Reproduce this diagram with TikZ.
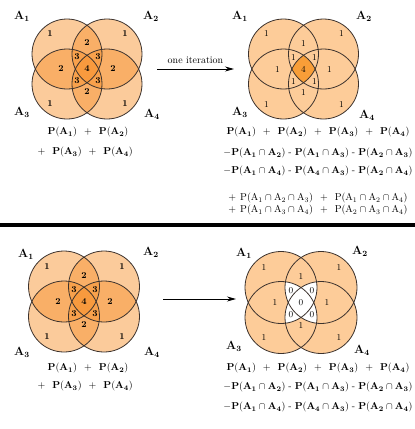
\documentclass[tikz,border=0pt]{standalone}
\usetikzlibrary{arrows.meta,calc}
\definecolor{peach}{RGB}{253,204,153}
\definecolor{orng}{RGB}{247,146,46}
\definecolor{deep}{RGB}{248,158,56}
\definecolor{edgec}{RGB}{60,50,45}
\newcommand{\PPb}[1]{$\mathbf{P(#1)}$}
\newcommand{\PPn}[1]{$\mathrm{P(#1)}$}
\newcommand{\pl}{\hspace{7pt}+\hspace{7pt}}
\newcommand{\mi}{\hspace{3pt}-\hspace{3pt}}
\tikzset{
  ring/.style={draw=edgec, line width=0.8pt},
  num/.style={font=\fontsize{9}{9}\selectfont\bfseries, inner sep=0pt},
  numr/.style={font=\fontsize{9}{9}\selectfont, inner sep=0pt},
  setlab/.style={font=\fontsize{12}{12}\selectfont, inner sep=0pt},
  formula/.style={font=\fontsize{10}{10}\selectfont, inner sep=0pt},
  iterarrow/.style={-{Stealth[length=9pt,width=5pt]}, line width=0.8pt}
}
\begin{document}
\begin{tikzpicture}[x=1pt,y=-1pt]
\useasboundingbox (0,0) rectangle (415,429);

% ---------- top-left Venn ----------
\coordinate (TL) at (87,69);
\foreach \dx/\dy in {-20/-15,20/-15,-20/15,20/15}
  \fill[orng, fill opacity=0.48] ($(TL)+(\dx,\dy)$) circle (35);
\foreach \dx/\dy in {-20/-15,20/-15,-20/15,20/15}
  \draw[ring] ($(TL)+(\dx,\dy)$) circle (35);
\foreach \dx/\dy/\t [count=\i] in {-37/-35/1,38/-35/1,-37/35/1,38/35/1,0/-26/2,-26/0/2,26/0/2,0/23/2,-10/-12/3,11/-12/3,-10/12/3,11/12/3,0/0/4}
  \node[num] (tln\i) at ($(TL)+(\dx,\dy)$) {\t};
\node[setlab] (tla1) at (22,16) {$\mathbf{A_1}$};
\node[setlab] (tla2) at (151,16) {$\mathbf{A_2}$};
\node[setlab] (tla3) at (22,112) {$\mathbf{A_3}$};
\node[setlab] (tla4) at (152,114) {$\mathbf{A_4}$};

% ---------- top-right Venn ----------
\coordinate (TR) at (303.5,69);
\foreach \dx/\dy in {-20/-15,20/-15,-20/15,20/15}
  \fill[peach] ($(TR)+(\dx,\dy)$) circle (35);
\begin{scope}
  \clip ($(TR)+(-20,-15)$) circle (35);
  \clip ($(TR)+(20,-15)$) circle (35);
  \clip ($(TR)+(-20,15)$) circle (35);
  \fill[deep] ($(TR)+(20,15)$) circle (35);
\end{scope}
\foreach \dx/\dy in {-20/-15,20/-15,-20/15,20/15}
  \draw[ring] ($(TR)+(\dx,\dy)$) circle (35);
\foreach \dx/\dy/\t [count=\i] in {-37/-35/1,38/-35/1,-37/35/1,38/35/1,0/-26/1,-26/0/1,26/0/1,0/23/1,-10/-12/1,11/-12/1,-10/12/1,11/12/1,0/0/4}
  \node[numr] (trn\i) at ($(TR)+(\dx,\dy)$) {\t};
\node[setlab] (tra1) at (240,16) {$\mathbf{A_1}$};
\node[setlab] (tra2) at (364,16) {$\mathbf{A_2}$};
\node[setlab] (tra3) at (240,112) {$\mathbf{A_3}$};
\node[setlab] (tra4) at (367,115) {$\mathbf{A_4}$};

% arrow top
\coordinate (ta0) at (157,69);
\coordinate (ta1) at (234,69);
\draw[iterarrow] (ta0) -- (ta1) node[midway, above=5pt, font=\fontsize{10}{10}\selectfont, inner sep=0pt] (iter) {one iteration};

% texts top-left
\node[formula] (tlf1) at (88,132) {\PPb{A_1}\pl\PPb{A_2}};
\node[formula, anchor=east] (tlf2) at (133,152) {+\hspace{7pt}\PPb{A_3}\pl\PPb{A_4}};

% texts top-right
\node[formula] (trf1) at (318,132) {\PPb{A_1}\pl\PPb{A_2}\pl\PPb{A_3}\pl\PPb{A_4}};
\node[formula] (trf2) at (318,153) {$\mathbf{-}$\PPb{A_1\cap A_2}\mi\PPb{A_1\cap A_3}\mi\PPb{A_2\cap A_3}};
\node[formula] (trf3) at (318,171) {$\mathbf{-}$\PPb{A_1\cap A_4}\mi\PPb{A_4\cap A_3}\mi\PPb{A_2\cap A_4}};
\node[formula] (trf4) at (318,198) {+\hspace{4pt}\PPn{A_1\cap A_2\cap A_3}\pl\PPn{A_1\cap A_2\cap A_4}};
\node[formula] (trf5) at (318,210) {+\hspace{4pt}\PPn{A_1\cap A_3\cap A_4}\pl\PPn{A_2\cap A_3\cap A_4}};

% separator
\coordinate (s0) at (0,225);
\coordinate (s1) at (415,225);
\draw[line width=4pt] (s0) -- (s1);

% ---------- bottom-left Venn ----------
\coordinate (BL) at (84,301.5);
\foreach \dx/\dy in {-20/-15,20/-15,-20/15,20/15}
  \fill[orng, fill opacity=0.48] ($(BL)+(\dx,\dy)$) circle (35.5);
\foreach \dx/\dy in {-20/-15,20/-15,-20/15,20/15}
  \draw[ring] ($(BL)+(\dx,\dy)$) circle (35.5);
\foreach \dx/\dy/\t [count=\i] in {-37/-35/1,38/-35/1,-37/35/1,38/35/1,0/-26/2,-26/0/2,26/0/2,0/23/2,-10/-12/3,11/-12/3,-10/12/3,11/12/3,0/0/4}
  \node[num] (bln\i) at ($(BL)+(\dx,\dy)$) {\t};
\node[setlab] (bla1) at (26,254) {$\mathbf{A_1}$};
\node[setlab] (bla2) at (151,252) {$\mathbf{A_2}$};
\node[setlab] (bla3) at (22,352) {$\mathbf{A_3}$};
\node[setlab] (bla4) at (152,352) {$\mathbf{A_4}$};

% ---------- bottom-right Venn ----------
\coordinate (BR) at (301,302.5);
\foreach \dx/\dy in {-20/-15,20/-15,-20/15,20/15}
  \fill[peach] ($(BR)+(\dx,\dy)$) circle (36);
\begin{scope}
  \clip ($(BR)+(-20,-15)$) circle (36);
  \clip ($(BR)+(20,-15)$) circle (36);
  \fill[white] ($(BR)+(-20,15)$) circle (36);
\end{scope}
\begin{scope}
  \clip ($(BR)+(-20,-15)$) circle (36);
  \clip ($(BR)+(20,-15)$) circle (36);
  \fill[white] ($(BR)+(20,15)$) circle (36);
\end{scope}
\begin{scope}
  \clip ($(BR)+(-20,-15)$) circle (36);
  \clip ($(BR)+(-20,15)$) circle (36);
  \fill[white] ($(BR)+(20,15)$) circle (36);
\end{scope}
\begin{scope}
  \clip ($(BR)+(20,-15)$) circle (36);
  \clip ($(BR)+(-20,15)$) circle (36);
  \fill[white] ($(BR)+(20,15)$) circle (36);
\end{scope}
\foreach \dx/\dy in {-20/-15,20/-15,-20/15,20/15}
  \draw[ring] ($(BR)+(\dx,\dy)$) circle (36);
\foreach \dx/\dy/\t [count=\i] in {-37/-35/1,38/-35/1,-37/35/1,38/35/1,0/-26/1,-26/0/1,26/0/1,0/23/1,-10/-12/0,11/-12/0,-10/12/0,11/12/0,0/0/0}
  \node[numr] (brn\i) at ($(BR)+(\dx,\dy)$) {\t};
\node[setlab] (bra1) at (244,253) {$\mathbf{A_1}$};
\node[setlab] (bra2) at (360,251) {$\mathbf{A_2}$};
\node[setlab] (bra3) at (234,346) {$\mathbf{A_3}$};
\node[setlab] (bra4) at (362,350) {$\mathbf{A_4}$};

% arrow bottom
\coordinate (ba0) at (163,299);
\coordinate (ba1) at (236,299);
\draw[iterarrow] (ba0) -- (ba1);

% texts bottom-left
\node[formula] (blf1) at (88,368) {\PPb{A_1}\pl\PPb{A_2}};
\node[formula, anchor=east] (blf2) at (133,386) {+\hspace{7pt}\PPb{A_3}\pl\PPb{A_4}};

% texts bottom-right
\node[formula] (brf1) at (318,368) {\PPb{A_1}\pl\PPb{A_2}\pl\PPb{A_3}\pl\PPb{A_4}};
\node[formula] (brf2) at (318,387) {$\mathbf{-}$\PPb{A_1\cap A_2}\mi\PPb{A_1\cap A_3}\mi\PPb{A_2\cap A_3}};
\node[formula] (brf3) at (318,407) {$\mathbf{-}$\PPb{A_1\cap A_4}\mi\PPb{A_4\cap A_3}\mi\PPb{A_2\cap A_4}};
\end{tikzpicture}
\end{document}
